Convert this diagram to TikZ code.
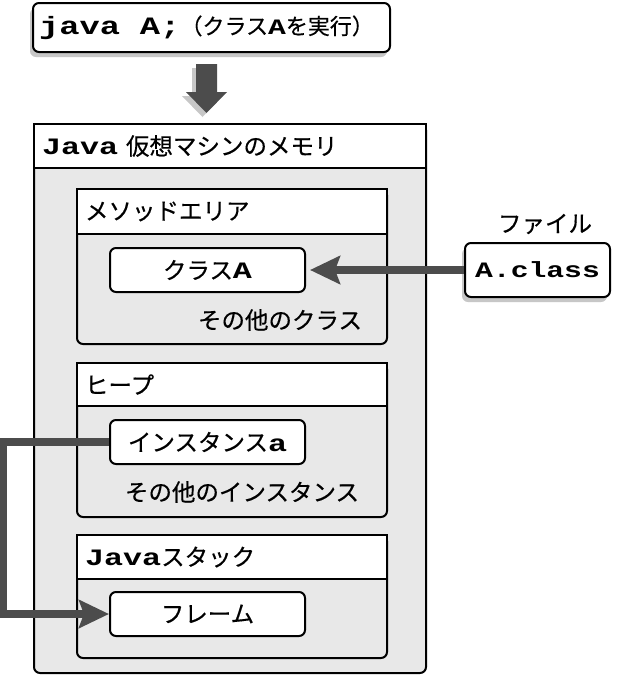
\documentclass[tikz,border=0pt]{standalone}
\usepackage{fontspec}
\setmainfont{Noto Sans CJK JP}[FakeBold=0.4]
\newfontfamily\codefont[FakeStretch=1.35]{Liberation Mono}
\newcommand\jcode[1]{{\codefont\bfseries #1}}
\usetikzlibrary{shadows,arrows.meta}

\tikzset{
  box/.style={draw, line width=2pt, fill=white, rounded corners=6pt, minimum width=195pt, minimum height=44pt},
  area/.style={draw, line width=2pt, fill=black!9, rounded corners=6pt, anchor=north west},
  head/.style={draw, line width=2pt, fill=white, anchor=north west, inner xsep=8pt, align=left},
  link/.style={line width=8pt, draw=black!70, -{Stealth[length=30pt, width=28pt, inset=5pt]}},
  shade/.style={drop shadow={shadow xshift=-3pt, shadow yshift=-5pt, fill=black!22, opacity=1}},
}

\begin{document}
\begin{tikzpicture}[x=1pt, y=-1pt, font=\fontsize{23.5pt}{27pt}\selectfont]
  \useasboundingbox[fill=white] (0,0) rectangle (624,675);

  % commande
  \node[box, shade, minimum height=49pt, inner xsep=6pt, text width=345pt, align=left,
    font=\fontsize{22pt}{27pt}\selectfont] (run) at (211.5,27.5)
    {\mbox{{\fontsize{25pt}{28pt}\selectfont\jcode{java}\kern20pt\jcode{A;}}（クラス\jcode{A}を実行）}};
  \fill[black!70, drop shadow={shadow xshift=-4pt, shadow yshift=-4pt, fill=black!22, opacity=1}]
    (196,64) -- (217,64) -- (217,92) -- (227,92) -- (206.5,113) -- (186,92) -- (196,92) -- cycle; %fleche bas

  % memoire de la JVM
  \node[area, minimum width=392pt, minimum height=549pt] (mem) at (33,123) {};
  \node[head, minimum width=392pt, minimum height=44pt, text width=376pt] (memhead) at (33,123) {\jcode{Java} 仮想マシンのメモリ};

  % zone des methodes
  \node[area, minimum width=310pt, minimum height=155pt] (method) at (76,188) {};
  \node[head, minimum width=310pt, minimum height=45pt, text width=294pt] (methodhead) at (76,188) {メソッドエリア};
  \node[box] (classA) at (207.5,270) {クラス\jcode{A}};
  \node (others) at (280,320) {その他のクラス};

  % tas
  \node[area, minimum width=310pt, minimum height=154pt] (heap) at (76,362) {};
  \node[head, minimum width=310pt, minimum height=43pt, text width=294pt] (heaphead) at (76,362) {ヒープ};
  \node[box] (inst) at (207.5,442) {インスタンス\jcode{a}};
  \node (otherinst) at (242,492) {その他のインスタンス};

  % pile Java
  \node[area, minimum width=310pt, minimum height=123pt] (stack) at (76,534) {};
  \node[head, minimum width=310pt, minimum height=44pt, text width=294pt] (stackhead) at (76,534) {\jcode{Java}スタック};
  \node[box] (frame) at (207.5,614) {フレーム};

  % fichier
  \node (filelabel) at (545,224) {ファイル};
  \node[box, shade, minimum width=145pt, minimum height=54pt, inner xsep=2pt] (cls) at (537.5,270)
    {\fontsize{22pt}{26pt}\selectfont\jcode{A.class}};

  \draw[link, shorten >=4pt] (cls.west) -- (classA.east);
  \draw[link] (inst.west) -- ++(-106,0) |- (frame.west);
\end{tikzpicture}
\end{document}
